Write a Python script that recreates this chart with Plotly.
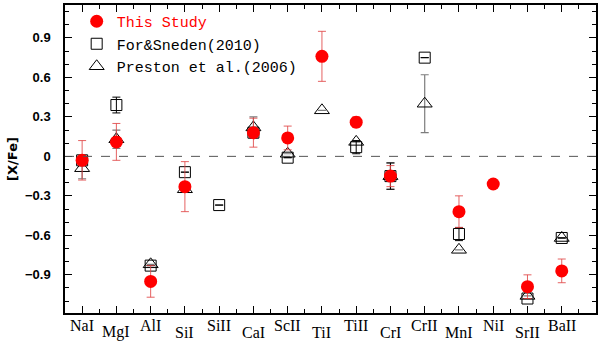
import plotly.graph_objects as go

elements = ["NaI", "MgI", "AlI", "SiI", "SiII", "CaI", "ScII", "TiI", "TiII",
            "CrI", "CrII", "MnI", "NiI", "SrII", "BaII"]
xpos = list(range(1, len(elements) + 1))

# this study
study = [-0.03, 0.11, -0.95, -0.23, None, 0.18, 0.14, 0.76, 0.26,
         -0.15, None, -0.42, -0.21, -0.99, -0.87]
study_err = [0.15, 0.14, 0.12, 0.19, 0, 0.11, 0.09, 0.19, 0.04,
             0.08, 0, 0.12, 0.03, 0.09, 0.09]

# For & Sneden (2010)
fs = [-0.03, 0.39, -0.83, -0.12, -0.37, 0.18, -0.01, None, 0.07,
      -0.15, 0.75, -0.59, None, -1.08, -0.62]
fs_err = [0, 0.06, 0, 0, 0, 0, 0, 0, 0.05, 0.1, 0, 0.05, 0, 0, 0]

# Preston et al. (2006)
pr = [-0.09, 0.13, -0.82, -0.25, None, 0.22, 0.02, 0.35, 0.11,
      -0.15, 0.40, -0.71, None, -1.06, -0.62]
pr_err = [0.08, 0.07, 0, 0, 0, 0.08, 0, 0, 0, 0.1, 0.22, 0, 0, 0, 0]

mono = "Liberation Mono"

fig = go.Figure()

fig.add_hline(y=0, line=dict(color="#555", width=1, dash="dash"))

fig.add_trace(go.Scatter(
    x=xpos, y=pr, mode="markers", name="Preston et al.(2006)",
    marker=dict(symbol="triangle-up-open", size=13, color="black", line=dict(width=1)),
    error_y=dict(type="data", array=pr_err, color="rgba(110,110,110,0.9)", thickness=1.2, width=4),
))
fig.add_trace(go.Scatter(
    x=xpos, y=fs, mode="markers", name="For&Sneden(2010)",
    marker=dict(symbol="square-open", size=11, color="black", line=dict(width=1)),
    error_y=dict(type="data", array=fs_err, color="black", thickness=1, width=4),
))
fig.add_trace(go.Scatter(
    x=xpos, y=study, mode="markers",
    name="<span style='color:red'>This Study</span>",
    marker=dict(symbol="circle", size=13, color="red"),
    error_y=dict(type="data", array=study_err, color="rgba(225,70,70,0.85)", thickness=1, width=4),
))

# staggered element labels
for i, (x, el) in enumerate(zip(xpos, elements)):
    fig.add_annotation(x=x, y=-0.042 if i % 2 == 0 else -0.062, xref="x", yref="paper",
                       text=el, showarrow=False, yanchor="middle",
                       font=dict(family="Liberation Serif", size=16, color="black"))

fig.update_layout(
    width=600, height=341,
    margin=dict(l=65, r=4, t=5, b=28),
    plot_bgcolor="white", paper_bgcolor="white",
    showlegend=True,
    legend=dict(x=0.022, y=1.0, xanchor="left", yanchor="top",
                traceorder="reversed", bgcolor="rgba(0,0,0,0)",
                font=dict(family=mono, size=15, color="black"),
                itemwidth=30, tracegroupgap=0),
)
fig.update_xaxes(range=[0.5, 16], showgrid=False, zeroline=False, automargin=False,
                 showline=True, linecolor="black", linewidth=1.5, mirror="ticks",
                 tickvals=xpos, ticktext=[""] * len(xpos),
                 ticks="inside", ticklen=7, tickcolor="black",
                 minor=dict(tickvals=[x + 0.5 for x in xpos], ticks="inside", ticklen=4, tickcolor="black"))
fig.update_yaxes(range=[-1.19, 1.15], showgrid=False, zeroline=False, automargin=False,
                 showline=True, linecolor="black", linewidth=1.5, mirror="ticks",
                 tickvals=[-0.9, -0.6, -0.3, 0, 0.3, 0.6, 0.9],
                 ticktext=["\u22120.9", "\u22120.6", "\u22120.3", "0", "0.3", "0.6", "0.9"],
                 ticks="inside", ticklen=7, tickcolor="black", ticklabelstandoff=10,
                 tickfont=dict(family="Liberation Sans", size=13, color="black", weight="bold"),
                 minor=dict(dtick=0.1, tick0=0, ticks="inside", ticklen=4, tickcolor="black"),
                 title=dict(text="[X/Fe]", standoff=4,
                            font=dict(family="DejaVu Sans", size=13, color="black", weight="bold")))

fig.write_html("out.html", post_script="document.body.style.margin='0px';",
               config={"displayModeBar": False})
